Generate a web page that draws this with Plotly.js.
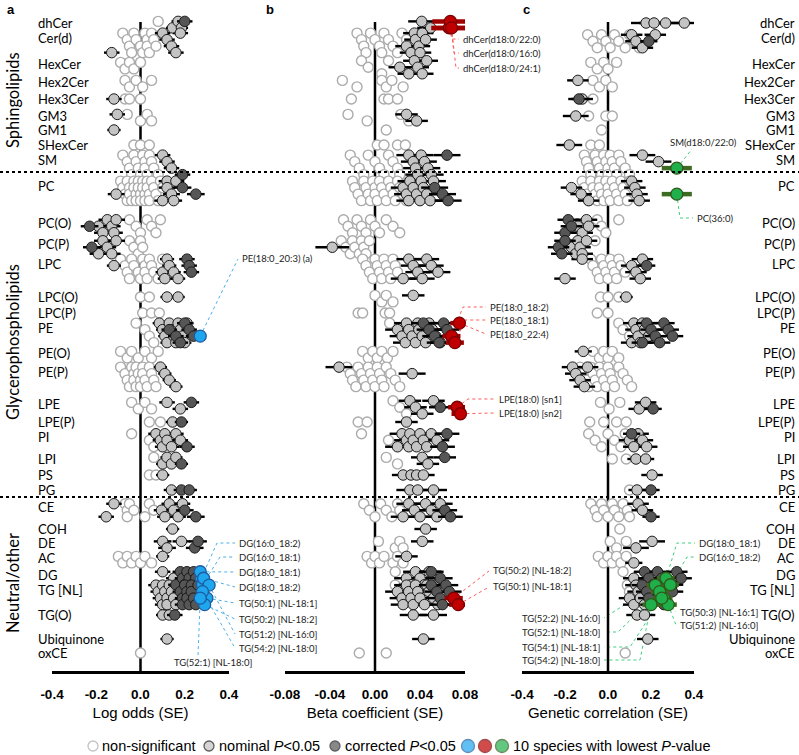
<!DOCTYPE html>
<html><head><meta charset="utf-8">
<script src="https://cdn.plot.ly/plotly-3.0.1.min.js"></script>
<style>html,body{margin:0;padding:0;background:#fff}#chart{width:799px;height:755px}</style>
</head><body><div id="chart"></div><script>
// ---------- categories ----------
const classes = ['dhCer','Cer(d)','HexCer','Hex2Cer','Hex3Cer','GM3','GM1','SHexCer','SM','PC','PC(O)','PC(P)','LPC','LPC(O)','LPC(P)','PE','PE(O)','PE(P)','LPE','LPE(P)','PI','LPI','PS','PG','CE','COH','DE','AC','DG','TG [NL]','TG(O)','Ubiquinone','oxCE'];
const groups = ['Sphingolipids','Glycerophospholipids','Neutral/other'];
const axisTitles = ['Log odds (SE)','Beta coefficient (SE)','Genetic correlation (SE)'];
const tickA = [-0.4,-0.2,0,0.2,0.4], tickAText = ['-0.4','-0.2','0.0','0.2','0.4'];
const tickB = [-0.08,-0.04,0,0.04,0.08], tickBText = ['-0.08','-0.04','0.00','0.04','0.08'];
const legendText = ['non-significant','nominal <i>P</i><0.05','corrected <i>P</i><0.05','10 species with lowest <i>P</i>-value'];

// ---------- panel a: log odds ----------
const aNonSig = [
 ['dhCer',[0.08]],
 ['Cer(d)',[-0.08,-0.06,-0.05,-0.04,-0.03,-0.02,0.0,0.01,0.02,0.03,0.03,0.04,0.05,0.06,0.07]],
 ['HexCer',[-0.09,-0.07,-0.05,-0.03,0.0]],
 ['Hex2Cer',[-0.07,-0.05,-0.02,0.01,0.05]],
 ['Hex3Cer',[-0.07,-0.05,0.0]],
 ['GM3',[-0.06,0.0,0.03,0.05]],
 ['SHexCer',[-0.03,0.0,0.04]],
 ['SM',[-0.08,-0.06,-0.05,-0.04,-0.03,-0.02,-0.01,0.0,0.01,0.02,0.02,0.03,0.04,0.05,0.06,0.08]],
 ['PC',[-0.09,-0.08,-0.07,-0.06,-0.06,-0.05,-0.05,-0.04,-0.03,-0.03,-0.02,-0.02,-0.01,-0.01,0.0,0.0,0.01,0.01,0.02,0.02,0.03,0.03,0.04,0.04,0.05,0.06,0.07,0.08,0.09,0.1]],
 ['PC(O)',[-0.05,-0.02,0.0,0.03,0.05,0.07,0.09]],
 ['PC(P)',[-0.05,-0.03,-0.01,0.0,0.01]],
 ['LPC',[-0.09,-0.07,-0.06,-0.05,-0.04,-0.03,-0.01,0.0,0.01,0.02,0.02,0.03,0.04,0.05,0.06,0.08,0.1]],
 ['LPC(O)',[0.0,0.04]],
 ['LPC(P)',[0.01,0.05,0.085]],
 ['PE',[-0.02,0.02,0.04,0.06]],
 ['PE(O)',[-0.09,-0.06,-0.04,-0.01,0.02,0.05,0.08]],
 ['PE(P)',[-0.09,-0.07,-0.06,-0.05,-0.04,-0.03,-0.03,-0.02,-0.02,-0.01,0.0,0.0,0.01,0.01,0.02,0.03,0.04,0.05,0.06,0.07]],
 ['LPE',[-0.04,-0.01,0.02,0.05]],
 ['LPE(P)',[0.04,0.09]],
 ['PI',[-0.04,0.04,0.06]],
 ['LPI',[0.06]],
 ['PS',[0.04,0.07]],
 ['CE',[-0.07,-0.06,-0.06,-0.05,-0.03,0.02,0.04,0.06]],
 ['AC',[-0.1,-0.08,-0.06,-0.04,-0.02,0.0,0.02,0.05]],
 ['oxCE',[0.0]]
];
const aNominal = [
 ['dhCer',[0.145,0.17,0.185],0.03],
 ['Cer(d)',[-0.13,0.1,0.12,0.14,0.16,0.18],0.035],
 ['Hex3Cer',[-0.12],0.035],
 ['GM3',[-0.105],0.035],
 ['GM1',[-0.12],0.03],
 ['SM',[0.1,0.12,0.14],0.035],
 ['PC',[-0.11,0.1,0.12,0.12,0.14,0.15,0.16],0.038],
 ['PC(O)',[-0.19,-0.17,-0.15,-0.13,-0.12,-0.11],0.04],
 ['PC(P)',[-0.19,-0.17,-0.15,-0.13,-0.11],0.04],
 ['LPC',[-0.12,0.1,0.11,0.12,0.13,0.15,0.17],0.032],
 ['LPC(O)',[0.12,0.17],0.03],
 ['PE',[0.085,0.1,0.11,0.12,0.13,0.14,0.15,0.16,0.17,0.18,0.19,0.2,0.21],0.03],
 ['PE(P)',[0.09,0.11,0.13,0.16],0.03],
 ['LPE',[0.12,0.18],0.035],
 ['LPE(P)',[0.145],0.03],
 ['PI',[0.07,0.09,0.1,0.11,0.12,0.14,0.16,0.18],0.035],
 ['LPI',[0.1,0.12,0.14,0.16],0.03],
 ['PS',[0.1],0.03],
 ['PG',[0.14],0.035],
 ['CE',[-0.155,-0.12,0.095,0.11,0.13,0.15,0.17,0.19],0.035],
 ['COH',[0.145],0.03],
 ['DE',[0.1,0.12,0.185],0.04],
 ['AC',[0.1],0.03],
 ['DG',[0.1,0.15],0.035],
 ['TG [NL]',[0.07,0.08,0.09,0.1,0.1,0.11,0.12,0.12,0.13,0.14,0.15,0.16,0.17],0.035],
 ['TG(O)',[0.1,0.13],0.03],
 ['Ubiquinone',[0.12],0.03]
];
const aCorrected = [
 ['dhCer',[0.2],0.035],
 ['SM',[0.19],0.035],
 ['PC',[0.19,0.25],0.04],
 ['PC(O)',[-0.23],0.04],
 ['PC(P)',[-0.22],0.04],
 ['LPC',[0.21,0.22,0.23],0.035],
 ['PE',[0.13,0.16,0.18,0.2,0.22,0.24],0.035],
 ['LPE',[0.23],0.035],
 ['LPE(P)',[0.185],0.03],
 ['PI',[0.21],0.035],
 ['LPI',[0.185],0.03],
 ['PG',[0.185,0.22],0.035],
 ['CE',[0.2,0.25],0.04],
 ['DE',[0.245,0.26],0.04],
 ['DG',[0.16,0.18,0.19,0.2,0.21,0.22,0.23,0.24,0.25,0.26],0.035],
 ['TG [NL]',[0.18,0.19,0.19,0.2,0.21,0.21,0.22,0.23,0.23,0.24,0.25,0.26],0.035],
 ['TG(O)',[0.155],0.035]
];
const aTop = [
 ['PE',0.27,0.025,'PE(18:0_20:3) (a)'],
 ['DG',0.275,0.025,'DG(16:0_18:2)'],
 ['DG',0.28,0.025,'DG(16:0_18:1)'],
 ['DG',0.27,0.025,'DG(18:0_18:1)'],
 ['DG',0.285,0.025,'DG(18:0_18:2)'],
 ['TG [NL]',0.3,0.025,'TG(50:1) [NL-18:1]'],
 ['TG [NL]',0.29,0.025,'TG(50:2) [NL-18:2]'],
 ['TG [NL]',0.31,0.025,'TG(51:2) [NL-16:0]'],
 ['TG [NL]',0.28,0.025,'TG(54:2) [NL-18:0]'],
 ['TG [NL]',0.27,0.025,'TG(52:1) [NL-18:0]']
];

// ---------- panel b: beta coefficient ----------
const bNonSig = [
 ['Cer(d)',[-0.016,-0.012,-0.01,-0.008,-0.004,0.0,0.004,0.006,0.008,0.012,0.016,0.02,0.024,0.028]],
 ['HexCer',[-0.012,-0.006,0.006,0.012]],
 ['Hex2Cer',[-0.029,-0.016,0.006,0.01,0.015,0.025]],
 ['Hex3Cer',[-0.021,0.008,0.012,0.02]],
 ['GM3',[-0.024,-0.007,0.023,0.03]],
 ['GM1',[0.01]],
 ['SHexCer',[0.002,0.008,0.02,0.027]],
 ['SM',[-0.022,-0.018,-0.014,-0.01,-0.006,0.0,0.004,0.008,0.012,0.016,0.02,0.022]],
 ['PC',[-0.02,-0.018,-0.015,-0.012,-0.01,-0.008,-0.006,-0.004,-0.002,0.0,0.0,0.002,0.004,0.006,0.008,0.01,0.012,0.014,0.016,0.018,0.02,0.022,0.025,0.028,0.03]],
 ['PC(O)',[-0.028,-0.024,-0.02,-0.016,-0.012,-0.008,-0.004,0.0,0.004,0.01,0.016,0.022]],
 ['PC(P)',[-0.03,-0.026,-0.022,-0.02,-0.018,-0.014,-0.012,-0.01,-0.008,-0.005]],
 ['LPC',[-0.011,-0.008,-0.005,-0.002,0.0,0.002,0.004,0.006,0.008,0.01,0.012,0.014,0.016,0.018,0.02]],
 ['LPC(O)',[0.0,0.006,0.01,0.016]],
 ['LPC(P)',[-0.015,-0.011,0.009,0.013]],
 ['PE',[0.013]],
 ['PE(O)',[-0.011,-0.006,-0.002,0.002,0.006,0.011,0.016]],
 ['PE(P)',[-0.025,-0.022,-0.02,-0.017,-0.015,-0.012,-0.01,-0.008,-0.006,-0.004,-0.002,0.0,0.002,0.004,0.006,0.008,0.01,0.014,0.018,0.022]],
 ['LPE',[0.016,0.022,0.028]],
 ['LPE(P)',[-0.015,-0.007]],
 ['PI',[-0.012,0.012]],
 ['LPI',[0.01,0.02]],
 ['CE',[-0.01,-0.005,0.0,0.005,0.01,0.015,0.02,0.022]],
 ['DE',[0.003,0.018,0.022,0.025]],
 ['AC',[-0.007,-0.003,0.0,0.004,0.008,0.016,0.02,0.025]],
 ['DG',[0.018]],
 ['TG [NL]',[0.018]],
 ['oxCE',[-0.014,0.01]]
];
const bNominal = [
 ['dhCer',[0.0415,0.0495],0.012],
 ['Cer(d)',[0.028,0.032,0.035,0.036,0.039,0.04,0.042,0.045],0.01],
 ['HexCer',[0.022,0.03,0.035,0.038,0.042,0.046],0.01],
 ['GM3',[0.028,0.037],0.01],
 ['SM',[0.03,0.034,0.036,0.038,0.041,0.044,0.047,0.05],0.011],
 ['PC',[0.025,0.028,0.03,0.031,0.034,0.037,0.04,0.041,0.043,0.046,0.049,0.052],0.011],
 ['PC(P)',[-0.038],0.015],
 ['LPC',[0.025,0.03,0.034,0.038,0.042,0.046,0.05,0.056],0.011],
 ['LPC(O)',[0.034],0.01],
 ['PE',[0.02,0.024,0.027,0.028,0.03,0.033,0.036,0.038,0.039,0.042,0.045,0.048,0.051,0.054,0.058],0.011],
 ['PE(P)',[-0.032,0.033],0.012],
 ['LPE',[0.031,0.036,0.042,0.052],0.01],
 ['LPE(P)',[0.028],0.01],
 ['PI',[0.02,0.024,0.028,0.03,0.031,0.034,0.037,0.04,0.043,0.046,0.05,0.055],0.011],
 ['LPI',[0.042,0.047],0.01],
 ['PS',[0.025,0.032,0.037,0.043],0.01],
 ['PG',[0.031,0.038,0.052],0.012],
 ['CE',[0.025,0.03,0.035,0.04,0.045,0.05,0.055,0.058],0.011],
 ['COH',[0.045],0.01],
 ['DE',[0.042],0.01],
 ['AC',[0.028],0.01],
 ['DG',[0.028,0.032,0.036,0.04,0.044,0.048,0.052,0.055],0.011],
 ['TG [NL]',[0.02,0.024,0.025,0.028,0.03,0.032,0.034,0.036,0.038,0.04,0.044,0.046,0.048,0.052,0.056],0.011],
 ['TG(O)',[0.034,0.052],0.012],
 ['Ubiquinone',[0.043],0.01]
];
const bCorrected = [
 ['SM',[0.064],0.012],
 ['PC',[0.053,0.06,0.065],0.012],
 ['PE',[0.043,0.048,0.053,0.057,0.061,0.064],0.011],
 ['LPE',[0.058],0.01],
 ['PI',[0.06,0.064],0.011],
 ['LPI',[0.062],0.01],
 ['CE',[0.062,0.067],0.011],
 ['DG',[0.05,0.058],0.011],
 ['TG [NL]',[0.05,0.055,0.058,0.06,0.063,0.066],0.011]
];
const bTop = [
 ['dhCer',0.066,0.016,'dhCer(d18:0/22:0)'],
 ['dhCer',0.067,0.016,'dhCer(d18:0/16:0)'],
 ['dhCer',0.068,0.016,'dhCer(d18:0/24:1)'],
 ['PE',0.068,0.008,'PE(18:0_18:2)'],
 ['PE',0.071,0.008,'PE(18:0_18:1)'],
 ['PE',0.075,0.008,'PE(18:0_22:4)'],
 ['LPE',0.073,0.008,'LPE(18:0) [sn1]'],
 ['LPE',0.076,0.008,'LPE(18:0) [sn2]'],
 ['TG [NL]',0.07,0.008,'TG(50:2) [NL-18:2]'],
 ['TG [NL]',0.074,0.008,'TG(50:1) [NL-18:1]']
];

// ---------- panel c: genetic correlation ----------
const cNonSig = [
 ['Cer(d)',[-0.095,-0.07,-0.05,-0.03,-0.01,0.01,0.03,0.05,0.08,0.1,0.12,0.145]],
 ['HexCer',[-0.08,-0.05,-0.02,0.0,0.04]],
 ['Hex2Cer',[-0.07,-0.04,-0.01,0.02]],
 ['Hex3Cer',[-0.07]],
 ['GM3',[-0.09,-0.01,0.02]],
 ['GM1',[-0.03]],
 ['SHexCer',[-0.08,-0.04]],
 ['SM',[-0.11,-0.1,-0.09,-0.08,-0.06,-0.05,-0.04,-0.03,-0.02,-0.01,0.0,0.0,0.01,0.02,0.03,0.04,0.05,0.06,0.08,0.1]],
 ['PC',[-0.12,-0.11,-0.1,-0.09,-0.08,-0.07,-0.06,-0.05,-0.04,-0.04,-0.03,-0.02,-0.01,0.0,0.0,0.01,0.02,0.03,0.04,0.05,0.06,0.07,0.08,0.09,0.1]],
 ['PC(O)',[-0.05,-0.03,-0.01,0.05]],
 ['PC(P)',[-0.06]],
 ['LPC',[-0.08,-0.07,-0.05,-0.04,-0.03,-0.02,-0.01,0.0,0.01,0.02,0.03,0.04,0.05,0.06,0.08]],
 ['LPC(O)',[-0.035,0.0,0.05]],
 ['LPC(P)',[-0.05,0.0]],
 ['PE',[0.05,0.07,0.1]],
 ['PE(O)',[-0.07,-0.04,-0.02,0.0,0.02,0.05]],
 ['PE(P)',[-0.13,-0.12,-0.1,-0.09,-0.08,-0.07,-0.06,-0.05,-0.04,-0.03,-0.02,-0.01,0.0,0.01,0.02,0.03,0.05,0.07,0.09,0.11]],
 ['LPE',[-0.035,0.005,0.055]],
 ['LPE(P)',[-0.085,-0.02,0.04,0.085]],
 ['PI',[-0.09,-0.06,-0.03,0.0,0.03,0.06,0.08]],
 ['LPI',[0.02,0.085]],
 ['PG',[0.1]],
 ['CE',[-0.08,-0.06,-0.05,-0.03,-0.02,0.0,0.02,0.03,0.05,0.07,0.09,0.1]],
 ['COH',[0.055]],
 ['DE',[0.01,0.04,0.085]],
 ['AC',[-0.045,-0.02,0.0,0.02,0.04,0.06,0.085]],
 ['DG',[0.07]],
 ['TG [NL]',[0.09,0.1]],
 ['oxCE',[0.08]]
];
const cNominal = [
 ['dhCer',[0.177,0.214,0.268,0.355],0.07],
 ['Cer(d)',[0.11,0.13,0.16,0.22],0.05],
 ['Hex2Cer',[-0.14],0.05],
 ['Hex3Cer',[-0.12],0.05],
 ['GM3',[-0.15],0.06],
 ['SHexCer',[-0.18],0.06],
 ['SM',[0.16,0.235],0.06],
 ['PC',[-0.17,-0.125,-0.09,0.11,0.125,0.135,0.145],0.05],
 ['PC(O)',[-0.14,-0.12,-0.1,-0.09],0.05],
 ['PC(P)',[-0.17,-0.15,-0.14,-0.13,-0.12,-0.1],0.05],
 ['LPC',[-0.2,-0.12,0.11,0.13,0.15,0.16],0.05],
 ['LPC(O)',[0.085],0.03],
 ['PE',[0.11,0.12,0.13,0.14,0.15,0.16,0.17,0.19],0.05],
 ['PE(O)',[-0.115],0.04],
 ['PE(P)',[-0.165,-0.15,-0.13,-0.11,-0.095],0.05],
 ['LPE',[0.145,0.175],0.05],
 ['PI',[0.1,0.12,0.14,0.16,0.18],0.05],
 ['LPI',[0.13,0.175],0.04],
 ['PS',[0.205],0.05],
 ['PG',[0.135],0.04],
 ['CE',[0.14,0.16],0.05],
 ['DE',[0.13,0.205],0.06],
 ['AC',[0.12],0.04],
 ['DG',[0.12,0.15],0.05],
 ['TG [NL]',[0.1,0.12,0.13,0.14,0.15,0.17],0.05],
 ['TG(O)',[0.135,0.17],0.05],
 ['Ubiquinone',[0.185],0.05]
];
const cCorrected = [
 ['Cer(d)',[0.19],0.04],
 ['Hex3Cer',[-0.135],0.05],
 ['PC(O)',[-0.2,-0.185,-0.17],0.05],
 ['PC(P)',[-0.23,-0.215,-0.2],0.05],
 ['LPC',[0.18],0.04],
 ['PE',[0.16,0.18,0.2,0.22,0.24,0.26,0.28,0.3],0.05],
 ['LPE',[0.21],0.04],
 ['PI',[0.11],0.04],
 ['PG',[0.2],0.04],
 ['CE',[0.2],0.04],
 ['DG',[0.17,0.19,0.21,0.23,0.25,0.3,0.32,0.34],0.05],
 ['TG [NL]',[0.16,0.18,0.19,0.2,0.22,0.23,0.24,0.26,0.28,0.3],0.05]
];
const cTop = [
 ['SM',0.32,0.07,'SM(d18:0/22:0)'],
 ['PC',0.32,0.07,'PC(36:0)'],
 ['DG',0.27,0.04,'DG(18:0_18:1)'],
 ['DG',0.29,0.04,'DG(16:0_18:2)'],
 ['TG [NL]',0.26,0.04,'TG(50:3) [NL-16:1]'],
 ['TG [NL]',0.28,0.04,'TG(51:2) [NL-16:0]'],
 ['TG [NL]',0.22,0.04,'TG(52:2) [NL-16:0]'],
 ['TG [NL]',0.24,0.04,'TG(52:1) [NL-18:0]'],
 ['TG [NL]',0.25,0.04,'TG(54:1) [NL-18:1]'],
 ['TG [NL]',0.2,0.04,'TG(54:2) [NL-18:0]']
];

// ================= layout helpers (positions/styles) =================
const W = 799, H = 755;
const rowY = [23,38,64,82,99,116,130,145,160,186,223,244,264,297,313,328,353,372,404,422,437,459,475,490,507,529,543,558,575,590,615,639,653];
const groupY = [100,342,583];
const axisLineY = 672;
const panels = [
  {ax:'x2', dom:[52,229], range:[-0.4,0.4], tv:tickA, tt:tickAText},
  {ax:'x3', dom:[285,465], range:[-0.08,0.08], tv:tickB, tt:tickBText},
  {ax:'x4', dom:[522,694], range:[-0.4,0.4], tv:tickA, tt:tickAText}
];
const topStyles = [
  {fill:'#1ea6ee', line:'#1f5c9e', bar:'#1f5c9e', conn:'#4db0e6'},
  {fill:'#c00000', line:'#7a0000', bar:'#a00000', conn:'#ff5a5a'},
  {fill:'#20b04b', line:'#2f5a1a', bar:'#3d6b22', conn:'#3fcf80'}
];
// label placements: [textX, textY, xanchor, connector path after the marker]
const labelPlace = [
 [[240,258,'left',[[238,259]]],
  [237,543,'left',[[217,543],[235,543]]],
  [237,557,'left',[[220,557],[235,557]]],
  [237,572,'left',[[235,572]]],
  [237,587,'left',[[235,587]]],
  [237,603,'left',[[235,603]]],
  [237,619,'left',[[235,619]]],
  [237,634,'left',[[235,634]]],
  [237,648,'left',[[235,648]]],
  [213,662,'center',[[198,656]]]],
 [[461,39,'left',[[452,39],[459,39]]],
  [461,53,'left',[[454,53],[459,53]]],
  [461,68,'left',[[456,68],[459,68]]],
  [488,307,'left',[[463,307],[486,307]]],
  [488,320,'left',[[465,320],[486,320]]],
  [488,334,'left',[[486,334]]],
  [497,399,'left',[[468,399],[495,399]]],
  [497,413,'left',[[495,413]]],
  [491,570,'left',[[489,571]]],
  [491,586,'left',[[489,587]]]],
 [[668,142,'left',[[692,149]]],
  [695,218,'left',[[680,218],[693,218]]],
  [697,543,'left',[[677,543],[695,543]]],
  [697,557,'left',[[687,557],[695,557]]],
  [678,612,'left',[[676,612]]],
  [678,625,'left',[[676,625]]],
  [602,618,'right',[[604,618]]],
  [602,632,'right',[[618,632],[604,632]]],
  [602,647,'right',[[630,647],[604,647]]],
  [602,660,'right',[[640,660],[604,660]]]]
];

function toPx(p, v){ const P = panels[p]; return P.dom[0] + (v - P.range[0])/(P.range[1]-P.range[0])*(P.dom[1]-P.dom[0]); }

const traces = [];
const annotations = [];
const shapes = [];
const LATO = 'Lato, Calibri, sans-serif';
const ARIAL = 'Liberation Sans, Arial, sans-serif';

function buildPanel(p, ns, nom, cor, top){
  const ax = panels[p].ax;
  const count = {};
  const add = c => count[c] = (count[c]||0) + 1;
  ns.forEach(([c,v]) => v.forEach(() => add(c)));
  nom.forEach(([c,v]) => v.forEach(() => add(c)));
  cor.forEach(([c,v]) => v.forEach(() => add(c)));
  top.forEach(([c]) => add(c));
  const R = c => { const n = count[c]; return n<=4?1 : n<=9?2 : n<=18?3 : 4; };
  const yOf = (c, r) => rowY[classes.indexOf(c)] + (r - (R(c)-1)*0.25)*6.5;
  const kIdx = {};
  const nextY = c => { const k = kIdx[c]||0; kIdx[c] = k+1; return yOf(c, k % R(c)); };
  const nx=[], ny=[];
  ns.forEach(([c,v]) => v.forEach(val => { nx.push(val); ny.push(nextY(c)); }));
  traces.push({type:'scatter', mode:'markers', xaxis:ax, yaxis:'y', x:nx, y:ny, cliponaxis:false,
    marker:{size:10, color:'#ffffff', line:{color:'#ababab', width:1.4}}, hoverinfo:'skip'});
  [[nom,'#c4c4c4'],[cor,'#565656']].forEach(([list,fill]) => {
    const x=[], y=[], e=[];
    list.forEach(([c,v,s]) => v.forEach((val,i) => { x.push(val); y.push(nextY(c)); e.push(Array.isArray(s)?s[i]:s); }));
    traces.push({type:'scatter', mode:'markers', xaxis:ax, yaxis:'y', x, y, cliponaxis:false,
      error_x:{type:'data', array:e, visible:true, color:'#000', thickness:2.4, width:0},
      marker:{size:10.5, color:fill, line:{color:'#1a1a1a', width:1}}, hoverinfo:'skip'});
  });
  const st = topStyles[p];
  const tx=[], ty=[], te=[], tj={};
  top.forEach(([c,v,s]) => {
    const j = tj[c]||0; tj[c] = j+1;
    const r = (Math.floor(R(c)/2) + j) % R(c);
    tx.push(v); ty.push(yOf(c, r)); te.push(s);
  });
  top.forEach(([c,v,s,lab], i) => {
    const [lx, ly, anc, path] = labelPlace[p][i];
    const xs = [toPx(p, tx[i])].concat(path.map(q => q[0]));
    const ys = [ty[i]].concat(path.map(q => q[1]));
    traces.push({type:'scatter', mode:'lines', xaxis:'x', yaxis:'y', x:xs, y:ys,
      line:{color:st.conn, width:1, dash:'dot'}, hoverinfo:'skip'});
    annotations.push({xref:'x', yref:'y', x:lx, y:ly, text:lab, showarrow:false, xanchor:anc, yanchor:'middle',
      font:{family:LATO, size:9.5, color:'#222'}});
  });
  traces.push({type:'scatter', mode:'markers', xaxis:ax, yaxis:'y', x:tx, y:ty, cliponaxis:false,
    error_x:{type:'data', array:te, visible:true, color:st.bar, thickness:4.5, width:0},
    marker:{size:12, color:st.fill, line:{color:st.line, width:1.3}}, hoverinfo:'skip'});
  shapes.push({type:'line', xref:ax, yref:'y', x0:0, x1:0, y0:22, y1:axisLineY, line:{color:'#000', width:2.5}, layer:'below'});
}

buildPanel(0, aNonSig, aNominal, aCorrected, aTop);
buildPanel(1, bNonSig, bNominal, bCorrected, bTop);
buildPanel(2, cNonSig, cNominal, cCorrected, cTop);

classes.forEach((c,i) => {
  annotations.push({xref:'x', yref:'y', x:36, y:rowY[i], text:c, showarrow:false, xanchor:'left', yanchor:'middle', font:{family:LATO, size:13, color:'#000'}});
  annotations.push({xref:'x', yref:'y', x:797, y:rowY[i], text:c, showarrow:false, xanchor:'right', yanchor:'middle', font:{family:LATO, size:13, color:'#000'}});
});
groups.forEach((g,i) => annotations.push({xref:'x', yref:'y', x:13, y:groupY[i], text:g, textangle:-90, showarrow:false, xanchor:'center', yanchor:'middle', font:{family:LATO, size:16.5, color:'#000'}}));
[['a',5],['b',264],['c',521]].forEach(([t,x]) => annotations.push({xref:'x', yref:'y', x:x, y:9, text:'<b>'+t+'</b>', showarrow:false, xanchor:'left', yanchor:'middle', font:{family:ARIAL, size:13, color:'#000'}}));
[172,497].forEach(y => shapes.push({type:'line', xref:'paper', yref:'y', x0:0, x1:1, y0:y, y1:y, line:{color:'#000', width:2, dash:'dot'}}));

const legY = 746;
traces.push({type:'scatter', mode:'markers', xaxis:'x', yaxis:'y', x:[93,209,335,468,485,502], y:[legY,legY,legY,legY,legY,legY],
  marker:{size:[10,10,10,13,13,13], color:['#fff','#c4c4c4','#565656',topStyles[0].fill,topStyles[1].fill,topStyles[2].fill],
    line:{color:['#ababab','#1a1a1a','#1a1a1a',topStyles[0].line,topStyles[1].line,topStyles[2].line], width:1.3}}, hoverinfo:'skip'});
[[100,0],[217,1],[343,2],[511,3]].forEach(([x,i]) => annotations.push({xref:'x', yref:'y', x:x, y:legY, text:legendText[i], showarrow:false, xanchor:'left', yanchor:'middle', font:{family:ARIAL, size:14.5, color:'#000'}}));

const layout = {
  width:W, height:H, margin:{l:0,r:0,t:0,b:0,pad:0}, showlegend:false,
  paper_bgcolor:'#fff', plot_bgcolor:'rgba(0,0,0,0)',
  yaxis:{domain:[0,1], range:[H,0], visible:false, fixedrange:true},
  xaxis:{domain:[0,1], range:[0,W], visible:false, fixedrange:true},
  annotations, shapes
};
panels.forEach((P,i) => {
  layout['xaxis'+(i+2)] = {
    domain:[P.dom[0]/W, P.dom[1]/W], range:P.range, anchor:'free', position:1-axisLineY/H,
    showline:true, linewidth:3, linecolor:'#000', ticks:'', showgrid:false, zeroline:false,
    tickmode:'array', tickvals:P.tv, ticktext:P.tt, ticklabelstandoff:9,
    tickfont:{family:ARIAL, size:13.5, weight:'bold', color:'#000'},
    title:{text:axisTitles[i], font:{family:ARIAL, size:15, color:'#000'}, standoff:6},
    fixedrange:true
  };
});
Plotly.newPlot('chart', traces, layout, {displayModeBar:false, staticPlot:true});
</script></body></html>
